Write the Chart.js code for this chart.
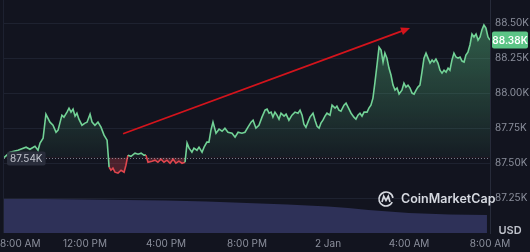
<!DOCTYPE html>
<html><head><meta charset="utf-8">
<script src="https://cdn.jsdelivr.net/npm/chart.js@4.4.1/dist/chart.umd.min.js"></script>
<style>html,body{margin:0;padding:0;background:#12141f;overflow:hidden}#wrap{width:530px;height:252px;position:relative}</style>
</head><body><div id="wrap"><canvas id="c"></canvas></div>
<script>
// Price (thousand USD) by hours since 8:00 AM
const hours = [0.00,0.30,0.69,1.09,1.28,1.53,1.68,1.78,1.93,2.07,2.27,2.42,2.57,2.67,2.86,2.96,3.11,3.21,3.31,3.41,3.51,3.60,3.70,3.85,4.00,4.10,4.25,4.35,4.49,4.64,4.79,4.94,5.09,5.19,5.28,5.38,5.48,5.63,5.78,5.93,6.02,6.12,6.27,6.47,6.62,6.77,6.91,7.01,7.11,7.31,7.46,7.60,7.75,7.90,8.05,8.20,8.35,8.49,8.64,8.79,8.94,9.04,9.14,9.28,9.38,9.53,9.63,9.78,9.88,10.02,10.12,10.22,10.32,10.47,10.62,10.77,10.91,11.06,11.26,11.41,11.56,11.75,11.90,12.05,12.20,12.30,12.44,12.59,12.74,12.89,12.99,13.09,13.19,13.28,13.38,13.48,13.58,13.68,13.83,13.93,14.07,14.22,14.37,14.52,14.62,14.72,14.81,14.91,15.01,15.11,15.26,15.36,15.46,15.56,15.65,15.75,15.85,15.95,16.10,16.20,16.35,16.44,16.54,16.64,16.79,16.89,16.99,17.14,17.28,17.38,17.48,17.58,17.68,17.78,17.93,18.02,18.12,18.22,18.32,18.42,18.52,18.62,18.72,18.81,18.91,19.01,19.11,19.21,19.31,19.41,19.51,19.65,19.75,19.85,19.95,20.05,20.15,20.25,20.35,20.44,20.54,20.64,20.74,20.84,20.94,21.04,21.14,21.23,21.33,21.43,21.53,21.63,21.73,21.83,21.93,22.02,22.12,22.22,22.32,22.42,22.52,22.62,22.72,22.81,22.91,23.01,23.11,23.21,23.31,23.41,23.51,23.60,23.70,23.80,23.90,24.00];
const prices = [87.540,87.578,87.592,87.614,87.599,87.621,87.592,87.643,87.678,87.850,87.793,87.771,87.721,87.736,87.843,87.829,87.865,87.893,87.865,87.886,87.836,87.857,87.814,87.771,87.786,87.793,87.850,87.793,87.771,87.793,87.757,87.700,87.664,87.471,87.449,87.464,87.435,87.428,87.449,87.435,87.485,87.557,87.549,87.571,87.564,87.571,87.557,87.557,87.506,87.514,87.521,87.506,87.528,87.506,87.521,87.499,87.528,87.499,87.514,87.499,87.506,87.643,87.607,87.578,87.607,87.592,87.614,87.578,87.614,87.650,87.650,87.736,87.793,87.714,87.743,87.728,87.750,87.721,87.714,87.686,87.721,87.714,87.721,87.757,87.793,87.807,87.750,87.771,87.829,87.879,87.886,87.857,87.865,87.829,87.865,87.843,87.814,87.857,87.836,87.850,87.807,87.843,87.865,87.857,87.879,87.843,87.779,87.757,87.793,87.829,87.857,87.807,87.764,87.750,87.786,87.807,87.836,87.857,87.843,87.915,87.893,87.908,87.879,87.872,87.915,87.929,87.900,87.857,87.829,87.814,87.843,87.857,87.836,87.865,87.865,87.893,87.915,87.965,88.080,88.202,88.330,88.309,88.223,88.287,88.251,88.180,88.130,88.058,88.022,88.037,87.994,88.022,88.072,88.044,88.058,88.037,88.001,87.994,88.022,88.044,88.058,88.151,88.251,88.287,88.251,88.216,88.237,88.223,88.244,88.216,88.165,88.144,88.165,88.151,88.180,88.165,88.237,88.287,88.259,88.251,88.259,88.230,88.223,88.273,88.294,88.345,88.423,88.402,88.423,88.380,88.402,88.452,88.488,88.466,88.402,88.380];
// 24h volume (relative units)
const volumeHours = [0,2,4,6,8,10,12,14,16,17,18,20,22,23.85];
const volumes = [14.6,14.6,14.4,14.2,13.9,13.5,12.9,12.2,11.4,10.7,9.9,8.6,7.9,7.7];
const openPrice = 87.54;
const lastPrice = 88.38;
const yTicks = [87.25,87.5,87.75,88.0,88.25,88.5];
const xTickHours = [0,4,8,12,16,20,24];
const xTickLabels = ['8:00 AM','12:00 PM','4:00 PM','8:00 PM','2 Jan','4:00 AM','8:00 AM'];
const trendFrom = [5.88,87.71];
const trendTo = [20.05,88.466];

const GREEN = '#72d296', RED = '#e0464e', TXT = '#8b8f9c';
const FONT = 'Inter, "Noto Sans", sans-serif';

const overlay = {
  id:'overlay',
  afterDatasetsDraw(chart){
    const {ctx, chartArea:a, scales:{x,y}} = chart;
    ctx.save();
    // left faint border
    ctx.strokeStyle='#1d2130'; ctx.lineWidth=1;
    ctx.beginPath(); ctx.moveTo(a.left-0.5,a.top); ctx.lineTo(a.left-0.5,a.bottom); ctx.stroke();
    // open price dotted line
    const by = Math.round(y.getPixelForValue(openPrice))+0.5;
    ctx.strokeStyle='rgba(175,180,195,0.65)'; ctx.setLineDash([1,2]);
    ctx.beginPath(); ctx.moveTo(a.left,by); ctx.lineTo(a.right,by); ctx.stroke();
    ctx.setLineDash([]);
    // left label
    ctx.font='10px '+FONT; ctx.textBaseline='middle'; ctx.textAlign='left';
    const lt = openPrice.toFixed(2)+'K'; const lw = ctx.measureText(lt).width;
    ctx.fillStyle='rgba(44,48,62,0.9)';
    ctx.beginPath(); ctx.roundRect(a.left+3,by-7,lw+6,14,2); ctx.fill();
    ctx.fillStyle='#c3c6cf'; ctx.fillText(lt,a.left+6,by+0.5);
    // trend arrow
    const x0=x.getPixelForValue(trendFrom[0]), y0=y.getPixelForValue(trendFrom[1]);
    const x1=x.getPixelForValue(trendTo[0]), y1=y.getPixelForValue(trendTo[1]);
    const ang=Math.atan2(y1-y0,x1-x0);
    ctx.strokeStyle='#d3141c'; ctx.fillStyle='#d3141c'; ctx.lineWidth=1.8;
    ctx.beginPath(); ctx.moveTo(x0,y0); ctx.lineTo(x1-6*Math.cos(ang),y1-6*Math.sin(ang)); ctx.stroke();
    ctx.beginPath(); ctx.moveTo(x1,y1);
    ctx.lineTo(x1-9*Math.cos(ang)+4*Math.sin(ang), y1-9*Math.sin(ang)-4*Math.cos(ang));
    ctx.lineTo(x1-9*Math.cos(ang)-4*Math.sin(ang), y1-9*Math.sin(ang)+4*Math.cos(ang));
    ctx.closePath(); ctx.fill();
    // last price badge
    const ly = y.getPixelForValue(lastPrice);
    ctx.fillStyle='#5cc486';
    ctx.beginPath(); ctx.roundRect(a.right+2,ly-8.5,36,17,2); ctx.fill();
    ctx.fillStyle='#ffffff'; ctx.font='600 10px '+FONT; ctx.textAlign='center';
    ctx.fillText(lastPrice.toFixed(2)+'K',a.right+20,ly+0.5);
    // USD
    ctx.fillStyle='#bfc2cb'; ctx.font='600 11px '+FONT;
    ctx.fillText('USD',a.right+20,a.bottom-2);
    // x labels
    ctx.fillStyle=TXT; ctx.font='10px '+FONT;
    xTickHours.forEach((h,i)=>{
      const t=xTickLabels[i]; const w=ctx.measureText(t).width;
      let px=x.getPixelForValue(h);
      px=Math.max(w/2,Math.min(chart.width-w/2-4,px));
      ctx.fillText(t,px,a.bottom+11);
    });
    // watermark
    const cx=a.right-104, cy=a.bottom-34;
    ctx.strokeStyle='#d6d9e0'; ctx.lineWidth=1.7;
    ctx.beginPath(); ctx.arc(cx,cy,7,0.15*Math.PI,1.95*Math.PI); ctx.stroke();
    ctx.beginPath(); ctx.moveTo(cx-4,cy+3); ctx.lineTo(cx-2.3,cy-2.7); ctx.lineTo(cx,cy+1.5);
    ctx.lineTo(cx+2.3,cy-2.7); ctx.lineTo(cx+4,cy+3); ctx.stroke();
    ctx.fillStyle='#d6d9e0'; ctx.font='600 12.5px '+FONT; ctx.textAlign='left';
    ctx.fillText('CoinMarketCap',cx+15,cy+0.5);
    ctx.restore();
  }
};

new Chart(document.getElementById('c'),{
  type:'line',
  data:{datasets:[
    {label:'Price',yAxisID:'y',order:1,
     data:hours.map((h,i)=>({x:h,y:prices[i]})),
     borderColor:GREEN,borderWidth:1.6,pointRadius:0,tension:0,
     segment:{borderColor:c=>((c.p0.parsed.y+c.p1.parsed.y)/2<openPrice?RED:GREEN)},
     fill:{target:{value:openPrice},below:'rgba(224,70,78,0.28)'},
     backgroundColor:(c)=>{
       const ch=c.chart; if(!ch.chartArea||!ch.scales.y) return 'rgba(92,197,134,0.2)';
       const s=ch.scales.y;
       const g=ch.ctx.createLinearGradient(0,s.getPixelForValue(yTicks[yTicks.length-1]),0,s.getPixelForValue(openPrice));
       g.addColorStop(0,'rgba(92,197,134,0.42)'); g.addColorStop(1,'rgba(92,197,134,0.05)');
       return g;
     }},
    {label:'Volume',yAxisID:'yv',order:2,
     data:volumeHours.map((h,i)=>({x:h,y:volumes[i]})),
     borderWidth:0,pointRadius:0,fill:'origin',backgroundColor:'#2e3158'}
  ]},
  options:{
    responsive:true,maintainAspectRatio:false,animation:false,
    layout:{padding:{left:4,right:0,top:0,bottom:19}},
    plugins:{legend:{display:false},tooltip:{enabled:false}},
    scales:{
      x:{type:'linear',min:0,max:24,display:false},
      y:{position:'right',min:87.0,max:88.667,
         afterBuildTicks:s=>{s.ticks=yTicks.map(v=>({value:v}));},
         afterFit:s=>{s.width=40;s.paddingTop=0;s.paddingBottom=0;},
         ticks:{color:TXT,font:{size:10,family:FONT},padding:5,callback:v=>Number(v).toFixed(2)+'K'},
         grid:{color:'#1e2230',drawTicks:false},
         border:{display:true,color:'#272b3a'}},
      yv:{display:false,min:0,max:100}
    }
  },
  plugins:[overlay]
});
</script></body></html>
